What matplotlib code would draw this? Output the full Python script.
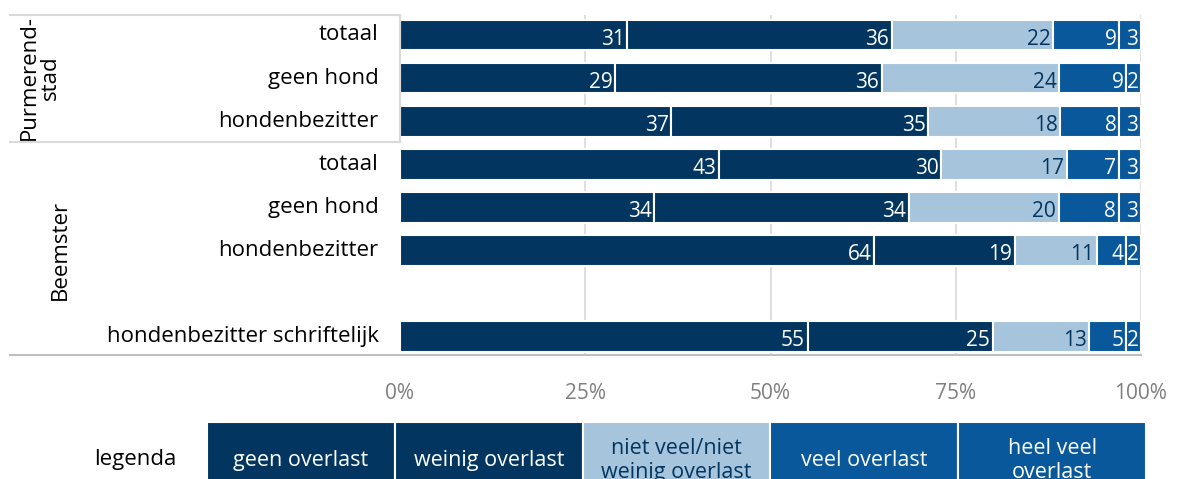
import matplotlib.pyplot as plt
import numpy as np
from matplotlib.lines import Line2D

plt.rcParams['font.family'] = ['Open Sans', 'DejaVu Sans']

# gegevens
rijen = ['totaal', 'geen hond', 'hondenbezitter',
         'totaal', 'geen hond', 'hondenbezitter',
         '', 'hondenbezitter schriftelijk']
geen_overlast = [31, 29, 37, 43, 34, 64, 0, 55]
weinig_overlast = [36, 36, 35, 30, 34, 19, 0, 25]
niet_veel = [22, 24, 18, 17, 20, 11, 0, 13]
veel_overlast = [9, 9, 8, 7, 8, 4, 0, 5]
heel_veel = [3, 2, 3, 3, 3, 2, 0, 2]
legenda_labels = ['geen overlast', 'weinig overlast', 'niet veel/niet\nweinig overlast',
                  'veel overlast', 'heel veel\noverlast']
groepen = ['Purmerend-\nstad', 'Beemster']
xticks = [0, 25, 50, 75, 100]

NAVY = '#023660'
LICHT = '#a6c4dc'
BLAUW = '#08589b'
kleuren = [NAVY, NAVY, LICHT, BLAUW, BLAUW]
tekstkleur = ['white', 'white', NAVY, 'white', 'white']

W, H = 1180, 479
fig = plt.figure(figsize=(W / 100, H / 100), dpi=100)

def fx(px):
    return px / W

def fy(py):
    return 1 - py / H

# hoofdgrafiek
ax = fig.add_axes([fx(400), fy(355), fx(1141) - fx(400), fy(15) - fy(355)])
series = np.array([geen_overlast, weinig_overlast, niet_veel, veel_overlast, heel_veel], dtype=float)
totaal = series.sum(axis=0)
totaal[totaal == 0] = 1
aandeel = series / totaal * 100
ypos = np.arange(len(rijen))

links = np.zeros(len(rijen))
for i in range(len(series)):
    ax.barh(ypos, aandeel[i], left=links, height=0.72, color=kleuren[i],
            edgecolor='white', linewidth=1.5, zorder=3)
    for j in range(len(rijen)):
        if series[i, j] > 0:
            ax.text(links[j] + aandeel[i, j] - 0.35, ypos[j] + 0.1, f'{int(series[i, j])}',
                    ha='right', va='center', color=tekstkleur[i], fontsize=15, zorder=4)
    links += aandeel[i]

ax.set_xlim(0, 100)
ax.set_ylim(7.44, -0.465)
ax.set_yticks([])
ax.set_xticks(xticks)
ax.set_xticklabels([f'{t}%' for t in xticks])
ax.tick_params(axis='x', length=0, pad=20, labelsize=15, labelcolor='#7f7f7f')
for t in xticks[1:]:
    ax.axvline(t, color='#d9d9d9', linewidth=1.2, zorder=1)
for s in ax.spines.values():
    s.set_visible(False)

# rijlabels
for j, naam in enumerate(rijen):
    ax.text(-2.9, ypos[j], naam, ha='right', va='center', fontsize=16, color='black')

# lijnen en groepslabels links
for py in [15, 142]:
    fig.add_artist(Line2D([fx(10), fx(400)], [fy(py), fy(py)], color='#d9d9d9', linewidth=1.5))
fig.add_artist(Line2D([fx(10), fx(1141)], [fy(355), fy(355)], color='#bfbfbf', linewidth=1.5))
fig.add_artist(Line2D([fx(400), fx(400)], [fy(15), fy(142)], color='#d9d9d9', linewidth=1.5))
fig.text(fx(40), fy(78), groepen[0], rotation=90, ha='center', va='center', fontsize=16,
         linespacing=1.0)
fig.text(fx(60), fy(250), groepen[1], rotation=90, ha='center', va='center', fontsize=16)

# legenda
lax = fig.add_axes([fx(207), fy(492), fx(1146) - fx(207), fy(422) - fy(492)])
lax.barh([0] * len(legenda_labels), [1] * len(legenda_labels), left=np.arange(len(legenda_labels)),
         height=1, color=kleuren, edgecolor='white', linewidth=1.5)
for i, lab in enumerate(legenda_labels):
    lax.text(i + 0.5, 0.05, lab, ha='center', va='center', fontsize=15.5, color=tekstkleur[i],
             linespacing=1.15)
lax.set_xlim(0, len(legenda_labels))
lax.set_ylim(0.5, -0.5)
lax.axis('off')
fig.text(fx(135), fy(459), 'legenda', ha='center', va='center', fontsize=16)

fig.savefig('out.png', dpi=100)
